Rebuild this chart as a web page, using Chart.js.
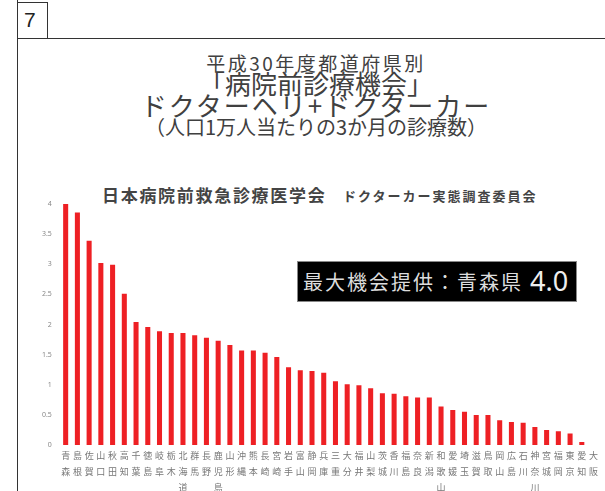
<!DOCTYPE html>
<html>
<head>
<meta charset="utf-8">
<script src="https://cdn.jsdelivr.net/npm/chart.js@4/dist/chart.umd.min.js"></script>
<style>
  html, body { margin: 0; padding: 0; background: #fff; }
  body { width: 605px; height: 491px; position: relative; overflow: hidden;
         font-family: "Noto Sans CJK JP", "Noto Sans", sans-serif; color: #404040; }
  .abs { position: absolute; white-space: nowrap; }
  .center { left: 16px; width: 600px; text-align: center; }
  #wrap { position: absolute; left: 0; top: 190px; width: 605px; height: 301px; }
</style>
</head>
<body>
<!-- frame -->
<div class="abs" style="left:17px;top:0;width:0;height:491px;border-left:1.5px solid #333;"></div>
<div class="abs" style="left:17px;top:38px;width:600px;height:0;border-top:1.5px solid #333;"></div>
<div class="abs" style="left:17px;top:2px;width:30px;height:36px;border:1.5px solid #333;border-left:none;border-bottom:none;"></div>
<div class="abs" style="left:24px;top:5px;font-family:'Liberation Sans',Arial,sans-serif;font-size:21px;line-height:30px;color:#222;">7</div>

<!-- titles -->
<div class="abs center" style="top:51px;font-size:19px;line-height:24px;letter-spacing:2.5px;">平成30年度都道府県別</div>
<div class="abs center" style="top:68px;font-size:26px;line-height:30px;">「病院前診療機会」</div>
<div class="abs center" style="top:90px;font-size:26px;line-height:30px;letter-spacing:2px;">ドクターヘリ+ドクターカー</div>
<div class="abs center" style="top:114px;font-size:20px;line-height:26px;">（人口1万人当たりの3か月の診療数）</div>
<div class="abs" style="left:102px;top:183px;font-size:17px;line-height:24px;font-weight:bold;letter-spacing:1.7px;color:#444;">日本病院前救急診療医学会</div>
<div class="abs" style="left:343px;top:186px;font-size:13px;line-height:20px;font-weight:bold;letter-spacing:2px;color:#444;">ドクターカー実態調査委員会</div>

<div id="wrap"><canvas id="chart"></canvas></div>

<!-- annotation box -->
<div class="abs" style="left:297px;top:261px;width:280px;height:41px;background:#000;border:1px solid #888;box-sizing:border-box;">
  <span class="abs" style="left:5px;top:7px;font-size:20px;line-height:26px;letter-spacing:2px;color:#ddd;">最大機会提供：青森県</span>
  <span class="abs" style="left:232px;top:3px;font-family:'Noto Sans',sans-serif;font-size:27px;line-height:32px;color:#eee;">4.0</span>
</div>

<script>
// prefectures, sorted by value (descending)
const prefectures = [
  '青森', '島根', '佐賀', '山口', '秋田', '高知', '千葉', '徳島', '岐阜', '栃木',
  '北海道', '群馬', '長野', '鹿児島', '山形', '沖縄', '熊本', '長崎', '宮崎', '岩手',
  '富山', '静岡', '兵庫', '三重', '大分', '福井', '山梨', '茨城', '香川', '福島',
  '奈良', '新潟', '和歌山', '愛媛', '埼玉', '滋賀', '鳥取', '岡山', '広島', '石川',
  '神奈川', '宮城', '福岡', '東京', '愛知', '大阪'
];

// consultations per 10,000 people over 3 months
const visits = [
  4.0, 3.86, 3.39, 3.02, 2.99, 2.51, 2.04, 1.96, 1.89, 1.86,
  1.86, 1.82, 1.78, 1.73, 1.66, 1.57, 1.57, 1.53, 1.46, 1.29,
  1.24, 1.23, 1.20, 1.06, 1.01, 0.99, 0.94, 0.86, 0.85, 0.81,
  0.79, 0.79, 0.64, 0.58, 0.55, 0.50, 0.50, 0.41, 0.38, 0.37,
  0.30, 0.25, 0.23, 0.19, 0.05, 0
];

const yTicks = [0, 0.5, 1, 1.5, 2, 2.5, 3, 3.5, 4];

// vertical labels: one character per line
const labels = prefectures.map(p => p.split(''));

new Chart(document.getElementById('chart'), {
  type: 'bar',
  data: {
    labels,
    datasets: [{
      data: visits,
      backgroundColor: '#ee2024',
      borderWidth: 0,
      barPercentage: 0.43,
      categoryPercentage: 1,
    }],
  },
  options: {
    responsive: true,
    maintainAspectRatio: false,
    animation: false,
    layout: { padding: { top: 14, right: 5.6, left: 0, bottom: 0 } },
    plugins: { legend: { display: false }, tooltip: { enabled: false } },
    scales: {
      x: {
        grid: { display: false, drawTicks: false },
        border: { display: false },
        ticks: {
          autoSkip: false, maxRotation: 0, minRotation: 0, padding: 3,
          color: '#777',
          font: { family: 'Noto Sans CJK JP', size: 9, lineHeight: 1.75 },
        },
        afterFit: s => { s.height = 46; },
      },
      y: {
        min: 0, max: 4,
        grid: { display: false, drawTicks: false },
        border: { display: false },
        afterBuildTicks: s => { s.ticks = yTicks.map(v => ({ value: v })); },
        ticks: {
          padding: 8,
          color: '#888',
          font: { family: 'Noto Sans', size: 7 },
          callback: v => String(v),
        },
        afterFit: s => { s.width = 59.8; },
      },
    },
  },
});
</script>
</body>
</html>
